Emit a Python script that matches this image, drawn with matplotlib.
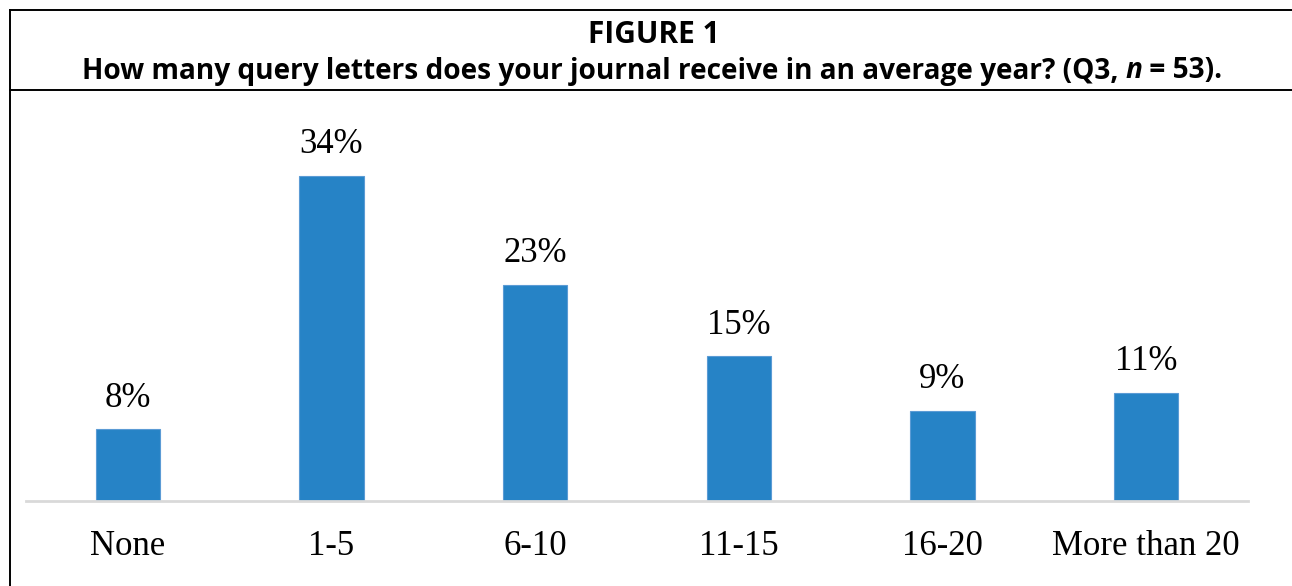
import matplotlib
matplotlib.use("Agg")
import matplotlib.pyplot as plt
from matplotlib.lines import Line2D

categories = ["None", "1-5", "6-10", "11-15", "16-20", "More than 20"]
values = [7.5, 34.0, 22.6, 15.1, 9.4, 11.3]
value_labels = ["8%", "34%", "23%", "15%", "9%", "11%"]
title_line1 = "FIGURE 1"
t1 = "How many query letters does your journal receive in an average year? (Q3, "
t2 = "n"
t3 = " = 53)."

W, H = 1292, 586
fig = plt.figure(figsize=(W / 100, H / 100), dpi=100)

def fx(px):
    return px / W

def fy(py):
    return 1 - py / H

# frame lines
fig.add_artist(Line2D([fx(10), 1.0], [fy(10), fy(10)], color="black", lw=1.4))
fig.add_artist(Line2D([fx(10), 1.0], [fy(90), fy(90)], color="black", lw=1.4))
fig.add_artist(Line2D([fx(10), fx(10)], [fy(10), 0.0], color="black", lw=1.4))

tfont = dict(family="Open Sans", weight="bold", color="black")
fig.text(fx(654), fy(35), title_line1, ha="center", va="center", fontsize=21.5, **tfont)

renderer = fig.canvas.get_renderer()
parts = []
for s, style in [(t1, "normal"), (t2, "italic"), (t3, "normal")]:
    tt = fig.text(0, fy(71), s, ha="left", va="center", fontsize=20.2, style=style, **tfont)
    parts.append(tt)
widths = [p.get_window_extent(renderer).width for p in parts]
total = sum(widths)
cur = 652 - total / 2
for p, w in zip(parts, widths):
    p.set_x(fx(cur))
    cur += w

# axes: x from 26 to 1248 px, y baseline 501
ax = fig.add_axes([fx(26), fy(501), fx(1248 - 26), (501 - 121) / H])
xs = list(range(len(categories)))
ax.bar(xs, values, width=0.315, color="#2683C6", edgecolor="#5B9BD5", linewidth=0.8, zorder=2)
for x, v, lab in zip(xs, values, value_labels):
    ax.annotate(lab, (x, v), xytext=(0, 10.5), textcoords="offset points", ha="center", va="bottom",
                fontsize=25, family="Liberation Serif", color="black")
ax.set_xlim(-0.5, 5.5)
ax.set_ylim(0, 39.7)
ax.set_xticks(xs)
ax.set_xticklabels(categories, fontsize=25, family="Liberation Serif")
ax.tick_params(axis="x", length=0, pad=21)
ax.set_yticks([])
for s in ["top", "right", "left"]:
    ax.spines[s].set_visible(False)
ax.spines["bottom"].set_color("#D9D9D9")
ax.spines["bottom"].set_linewidth(2)
ax.patch.set_alpha(0)

fig.savefig("out.png", dpi=100)
